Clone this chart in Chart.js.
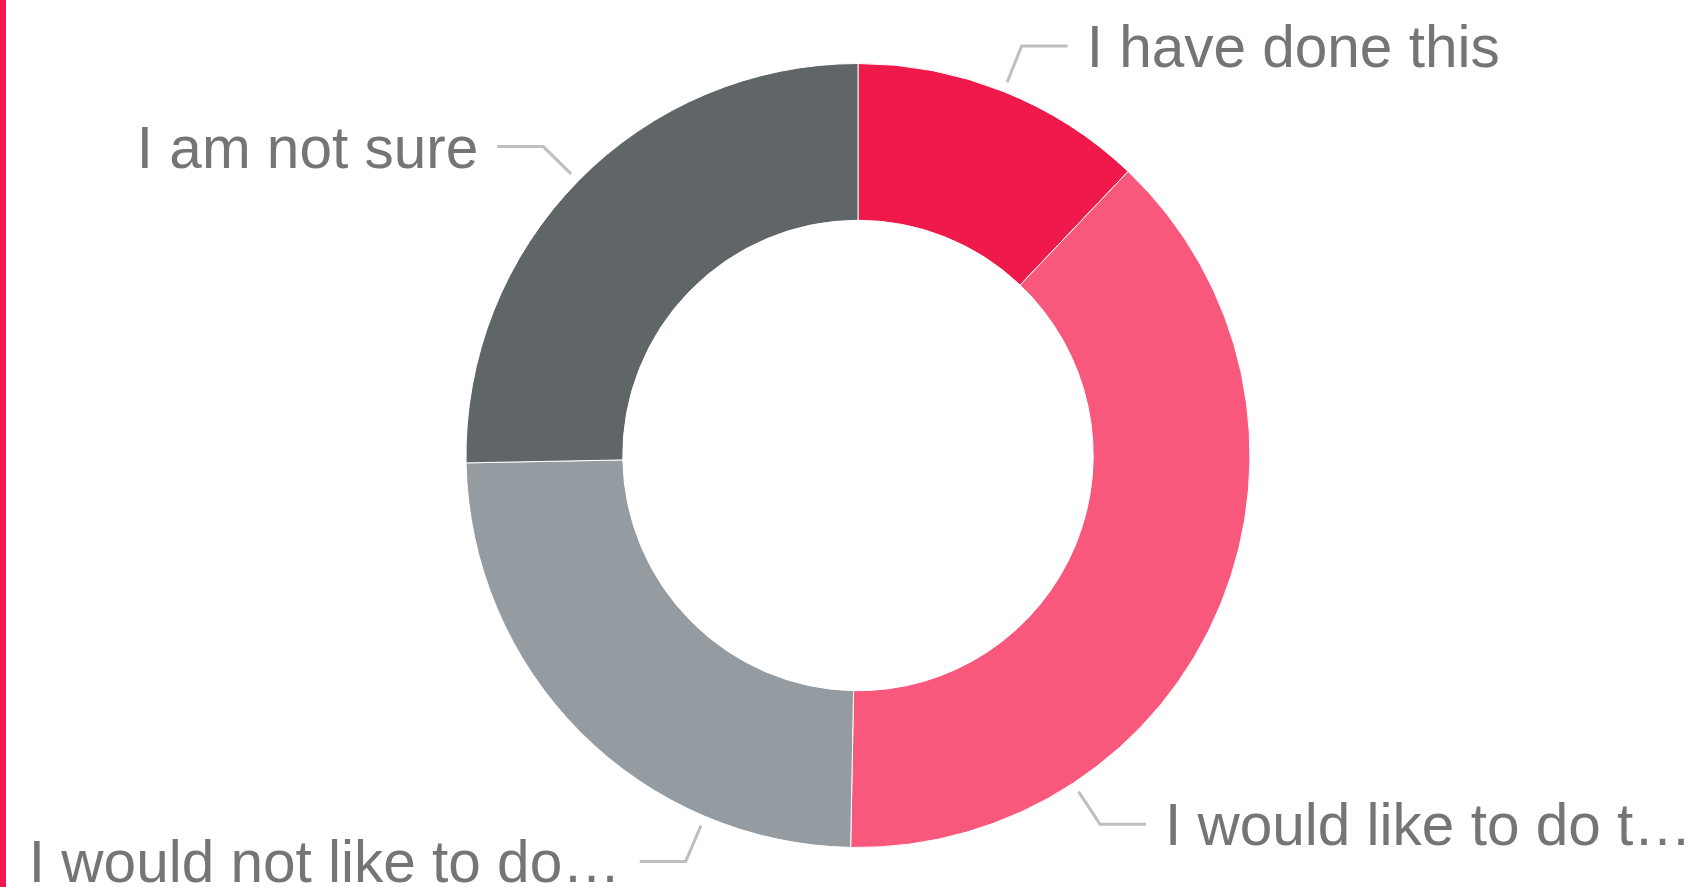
<!DOCTYPE html>
<html>
<head>
<meta charset="utf-8">
<script src="https://cdn.jsdelivr.net/npm/chart.js@4"></script>
<style>
    html, body { margin: 0; padding: 0; background: #fff; }
    #wrap { width: 1695px; height: 887px; border-left: 6px solid #f0184f; }
</style>
</head>
<body>
<div id="wrap"><canvas id="answerChart" width="1695" height="887"></canvas></div>
<script>
// Chart data
const answerLabels = ["I have done this", "I would like to do t\u2026", "I would not like to do\u2026", "I am not sure"];
const answerShares = [12.1, 38.2, 24.4, 25.3];
const answerColors = ["#ef194b", "#f9587d", "#959ca1", "#606567"];

// Outside labels with leader lines, placed from each arc's own geometry
const outerLabels = {
    id: "outerLabels",
    afterDatasetsDraw(chart, args, opts) {
        const ctx = chart.ctx;
        const meta = chart.getDatasetMeta(0);
        ctx.save();
        ctx.font = opts.font;
        ctx.lineWidth = 3;
        ctx.strokeStyle = opts.lineColor;
        ctx.fillStyle = opts.textColor;
        ctx.textBaseline = "alphabetic";
        meta.data.forEach((arc, i) => {
            const { x, y, startAngle, endAngle, outerRadius } = arc.getProps(["x", "y", "startAngle", "endAngle", "outerRadius"], true);
            const a = (startAngle + endAngle) / 2 + (opts.shift[i] || 0) * Math.PI / 180;
            const cos = Math.cos(a), sin = Math.sin(a);
            const x0 = x + (outerRadius + 10) * cos, y0 = y + (outerRadius + 10) * sin;
            const x1 = x + (outerRadius + 49) * cos, y1 = y + (outerRadius + 49) * sin;
            const dir = cos >= 0 ? 1 : -1;
            const x2 = x1 + dir * 46;
            ctx.beginPath();
            ctx.moveTo(x0, y0);
            ctx.lineTo(x1, y1);
            ctx.lineTo(x2, y1);
            ctx.stroke();
            ctx.textAlign = dir > 0 ? "left" : "right";
            ctx.fillText(chart.data.labels[i], x2 + dir * 19, y1 + 21);
        });
        ctx.restore();
    }
};

new Chart(document.getElementById("answerChart"), {
    type: "doughnut",
    data: {
        labels: answerLabels,
        datasets: [{
            data: answerShares,
            backgroundColor: answerColors,
            borderColor: "#ffffff",
            borderWidth: 1
        }]
    },
    options: {
        responsive: false,
        animation: false,
        cutout: "60%",
        layout: { padding: { left: 455, right: 446, top: 63, bottom: 39 } },
        plugins: {
            legend: { display: false },
            tooltip: { enabled: false },
            outerLabels: {
                font: "58.5px 'Liberation Sans', Arial, sans-serif",
                textColor: "#757575",
                lineColor: "#bfbfbf",
                shift: [0, 34.4, -22, 0]
            }
        }
    },
    plugins: [outerLabels]
});
</script>
</body>
</html>
